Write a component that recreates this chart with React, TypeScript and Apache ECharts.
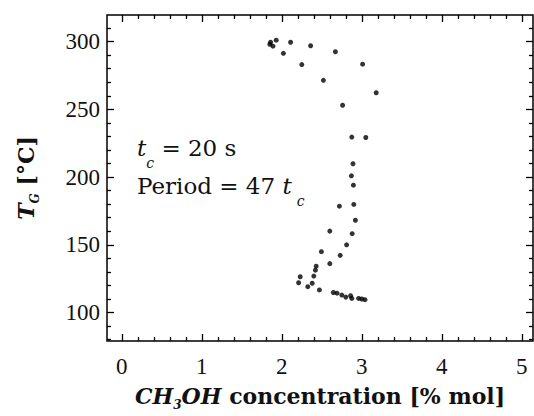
import { useEffect, useRef } from "react";
import * as echarts from "echarts";

// CH3OH concentration [% mol]
const concentration = [
  1.86, 1.89, 1.93, 1.85, 2.02, 2.11, 2.25, 2.36, 2.52, 2.67, 2.76, 3.01, 3.18,
  2.875, 3.05, 2.89, 2.87, 2.895, 2.72, 2.9, 2.92, 2.6, 2.88, 2.81, 2.495, 2.73,
  2.6, 2.43, 2.42, 2.4, 2.23, 2.21, 2.325, 2.38, 2.47, 2.645, 2.69, 2.75, 2.8,
  2.86, 2.875, 2.96, 3.0, 3.04,
];
// T_G [°C]
const temperature = [
  299.5, 296.6, 301, 298, 291.3, 299.5, 283, 296.9, 271.4, 292.5, 253, 283.3,
  262.2, 229.5, 229.2, 209.8, 200.9, 194, 178.5, 179.8, 168.1, 160.1, 158.2, 150,
  144.9, 142.2, 136.1, 134.2, 131.3, 126.9, 126.4, 122, 119.1, 121.6, 116.7,
  114.8, 114.3, 112.9, 111.4, 112.4, 110.4, 110.4, 110, 109.5,
];

const xMajorTicks = [0, 1, 2, 3, 4, 5];
const xMinorTicks = [
  0.2, 0.4, 0.6, 0.8, 1.2, 1.4, 1.6, 1.8, 2.2, 2.4, 2.6, 2.8, 3.2, 3.4, 3.6,
  3.8, 4.2, 4.4, 4.6, 4.8,
];
const yMajorTicks = [100, 150, 200, 250, 300];
const yMinorTicks = [
  80, 90, 110, 120, 130, 140, 160, 170, 180, 190, 210, 220, 230, 240, 260, 270,
  280, 290, 310,
];

const X_MIN = -0.185;
const X_MAX = 5.14;
const Y_MIN = 79;
const Y_MAX = 319.6;

const SERIF = "'DejaVu Serif', serif";
const TICK_FONT = "'Liberation Serif', serif";

export default function App() {
  const ref = useRef<HTMLDivElement>(null);

  useEffect(() => {
    if (!ref.current) return;
    const chart = echarts.init(ref.current, null, { renderer: "svg" });

    const xAx = (
      position: "top" | "bottom",
      ticks: number[],
      len: number,
      withLabel: boolean,
      extra: any = {}
    ) => ({
      type: "value",
      position,
      min: X_MIN,
      max: X_MAX,
      axisLine: { show: false, onZero: false },
      axisTick: {
        show: true,
        inside: true,
        length: len,
        customValues: ticks,
        lineStyle: { color: "#000", width: 1.3 },
      },
      axisLabel: withLabel
        ? {
            show: true,
            customValues: ticks,
            margin: 14,
            color: "#111",
            fontFamily: TICK_FONT,
            fontSize: 23,
          }
        : { show: false },
      splitLine: { show: false },
      ...extra,
    });

    const yAx = (
      position: "left" | "right",
      ticks: number[],
      len: number,
      withLabel: boolean,
      extra: any = {}
    ) => ({
      type: "value",
      position,
      min: Y_MIN,
      max: Y_MAX,
      axisLine: { show: false, onZero: false },
      axisTick: {
        show: true,
        inside: true,
        length: len,
        customValues: ticks,
        lineStyle: { color: "#000", width: 1.3 },
      },
      axisLabel: withLabel
        ? {
            show: true,
            customValues: ticks,
            margin: 7,
            color: "#111",
            fontFamily: TICK_FONT,
            fontSize: 23,
          }
        : { show: false },
      splitLine: { show: false },
      ...extra,
    });

    const titleRich = {
      bi: {
        fontFamily: SERIF,
        fontSize: 22,
        fontWeight: "bold",
        fontStyle: "italic",
        lineHeight: 30,
        color: "#111",
      },
      b: {
        fontFamily: SERIF,
        fontSize: 22,
        fontWeight: "bold",
        lineHeight: 30,
        color: "#111",
      },
      s: {
        fontFamily: SERIF,
        fontSize: 12,
        fontWeight: "bold",
        fontStyle: "italic",
        lineHeight: 12,
        verticalAlign: "bottom",
        color: "#111",
      },
    };

    const annRich = {
      i: {
        fontFamily: SERIF,
        fontSize: 23,
        fontStyle: "italic",
        lineHeight: 44,
        fill: "#111",
      },
      n: {
        fontFamily: SERIF,
        fontSize: 23,
        lineHeight: 44,
        fill: "#111",
      },
      s: {
        fontFamily: SERIF,
        fontSize: 14,
        fontStyle: "italic",
        lineHeight: 14,
        verticalAlign: "bottom",
        fill: "#111",
      },
      s2: {
        fontFamily: SERIF,
        fontSize: 14,
        fontStyle: "italic",
        lineHeight: 14,
        verticalAlign: "bottom",
        padding: [0, 0, 0, 5],
        fill: "#111",
      },
    };

    chart.setOption({
      animation: false,
      backgroundColor: "#fff",
      grid: {
        left: 107,
        right: 1,
        top: 15,
        bottom: 70,
        show: true,
        borderColor: "#000",
        borderWidth: 1.5,
        backgroundColor: "transparent",
      },
      xAxis: [
        xAx("bottom", xMajorTicks, 7, true, {
          name: "{bi|CH}{s|3}{bi|OH}{b| concentration [% mol]}",
          nameLocation: "middle",
          nameGap: 40,
          nameTextStyle: { rich: titleRich },
        }),
        xAx("bottom", xMinorTicks, 4, false),
        xAx("top", xMajorTicks, 7, false),
        xAx("top", xMinorTicks, 4, false),
      ],
      yAxis: [
        yAx("left", yMajorTicks, 7, true, {
          name: "{bi|T}{s|G}{b| [°C]}",
          nameLocation: "middle",
          nameRotate: 90,
          nameGap: 66,
          nameTextStyle: { rich: titleRich },
        }),
        yAx("left", yMinorTicks, 4, false),
        yAx("right", yMajorTicks, 7, false),
        yAx("right", yMinorTicks, 4, false),
      ],
      graphic: [
        {
          type: "text",
          x: 137,
          y: 126,
          style: {
            text: "{i|t}{s|c}{n| = 20 s}",
            rich: annRich,
          },
        },
        {
          type: "text",
          x: 137,
          y: 164,
          style: {
            text: "{n|Period = 47 }{i|t}{s2|c}",
            rich: annRich,
          },
        },
      ],
      series: [
        {
          type: "scatter",
          xAxisIndex: 0,
          yAxisIndex: 0,
          symbol: "circle",
          symbolSize: 5,
          itemStyle: { color: "#000" },
          data: concentration.map((c, i) => [c, temperature[i]]),
        },
      ],
    });

    return () => chart.dispose();
  }, []);

  return (
    <div
      ref={ref}
      style={{ position: "fixed", left: 0, top: 0, width: 534, height: 416 }}
    />
  );
}
